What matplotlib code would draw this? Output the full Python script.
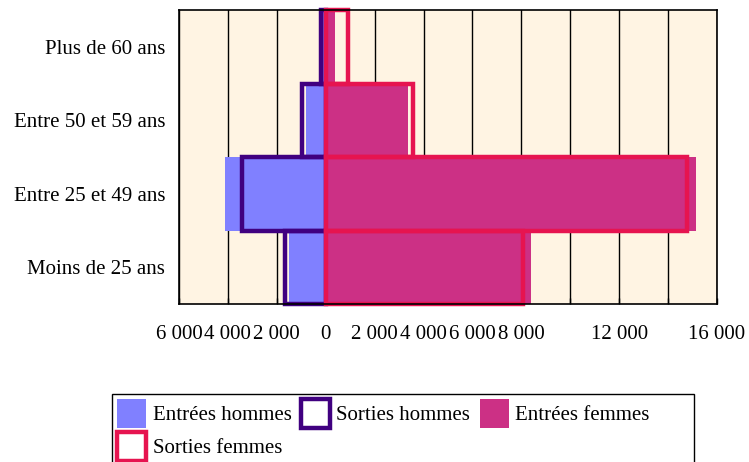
import matplotlib.pyplot as plt
from matplotlib.patches import Patch, Rectangle
from matplotlib.ticker import FuncFormatter

plt.rcParams['font.family'] = ['Liberation Serif', 'DejaVu Serif']

# Data (hommes shown on the negative side)
categories = ['Moins de 25 ans', 'Entre 25 et 49 ans', 'Entre 50 et 59 ans', 'Plus de 60 ans']
entrees_hommes = [-1500, -4100, -820, -120]
sorties_hommes = [-1660, -3430, -970, -200]
entrees_femmes = [8400, 15150, 3370, 380]
sorties_femmes = [8050, 14770, 3550, 900]
xticks = [-6000, -4000, -2000, 0, 2000, 4000, 6000, 8000, 10000, 12000, 14000, 16000]
hidden_ticks = [10000, 14000]

c_eh = '#8080ff'
c_sh = '#400080'
c_ef = '#cc3085'
c_sf = '#e61450'

fig = plt.figure(figsize=(7.49, 4.62), dpi=100)
ax = fig.add_axes([179 / 749, 1 - 304 / 462, (717 - 179) / 749, (304 - 10) / 462])
ax.set_facecolor('#fff4e3')

y = range(len(categories))
ax.barh(y, entrees_hommes, height=1.0, color=c_eh, linewidth=0, zorder=2, clip_on=False)
ax.barh(y, sorties_hommes, height=1.0, fill=False, edgecolor=c_sh, linewidth=3.2, zorder=3, clip_on=False)
ax.barh(y, entrees_femmes, height=1.0, color=c_ef, linewidth=0, zorder=4, clip_on=False)
ax.barh(y, sorties_femmes, height=1.0, fill=False, edgecolor=c_sf, linewidth=3.2, zorder=5, clip_on=False)

ax.set_xlim(-6000, 16000)
ax.set_ylim(-0.5, len(categories) - 0.5)
ax.set_yticks(list(y))
ax.set_yticklabels(categories, fontsize=15)
ax.set_xticks(xticks)
ax.xaxis.set_major_formatter(FuncFormatter(
    lambda v, p: '' if v in hidden_ticks else f'{abs(v):,.0f}'.replace(',', ' ')))
ax.tick_params(axis='x', direction='in', length=4, labelsize=15, pad=15, width=1)
ax.tick_params(axis='y', length=0, pad=10)
ax.grid(axis='x', color='black', linewidth=1)
ax.set_axisbelow(True)
for s in ax.spines.values():
    s.set_linewidth(1.2)
    s.set_zorder(6)

# legend frame runs off the bottom of the figure like in the original
fig.patches.append(Rectangle((112 / 749, -0.1), (694 - 112) / 749, (1 - 394 / 462) + 0.1,
                             transform=fig.transFigure, facecolor='white',
                             edgecolor='black', linewidth=1, zorder=1))
h_eh = Patch(facecolor=c_eh, edgecolor='none')
h_sh = Patch(facecolor='white', edgecolor=c_sh, linewidth=3.2)
h_ef = Patch(facecolor=c_ef, edgecolor='none')
h_sf = Patch(facecolor='white', edgecolor=c_sf, linewidth=3.2)
fig.legend([h_eh, h_sf, h_sh, h_ef],
           ['Entrées hommes', 'Sorties femmes', 'Sorties hommes', 'Entrées femmes'],
           ncol=3, loc='upper left', bbox_to_anchor=(112 / 749, 1 - 394 / 462),
           frameon=False, fontsize=15, handlelength=1.4, handleheight=1.75,
           handletextpad=0.3, columnspacing=0.45, labelspacing=0.18,
           borderpad=0.25, borderaxespad=0)

fig.savefig('out.png', dpi=100)
